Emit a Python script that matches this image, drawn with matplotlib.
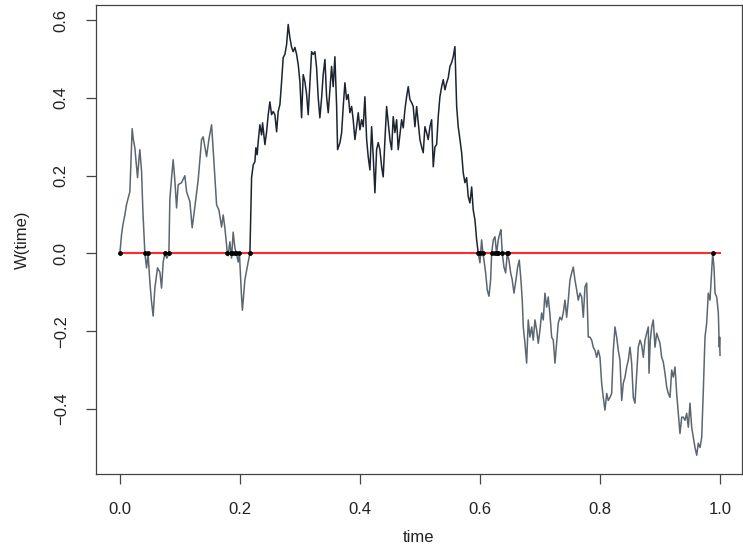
import matplotlib
matplotlib.use("Agg")
import matplotlib.pyplot as plt
import numpy as np

plt.rcParams['font.family'] = ['Liberation Sans', 'DejaVu Sans']

# Path before the longest excursion (gray)
t_pre = [0.0, .0028, .005, .0083, .011, .014, .0167, .0183, .0205, .0225, .025, .0275, .0295,
         .0317, .0333, .0362, .0383, .0417, .0445, .047, .05, .0525, .0555, .0583, .0628, .0667,
         .0695, .0722, .075, .0783, .0817, .0833, .0862, .0888, .0917, .0945, .0972, .1028, .1083,
         .1112, .1167, .1205, .125, .1305, .1362, .1388, .1445, .1483, .1528, .1555, .1612, .165,
         .1695, .1722, .175, .1778, .1792, .1805, .1833, .1862, .1888, .1917, .1942, .1972, .1992,
         .2028, .2042, .2083, .2138, .2167]
w_pre = [0.0, .048, .073, .099, .125, .143, .159, .228, .321, .293, .272, .228, .195,
         .241, .267, .210, .112, 0.0, -.037, 0.0, -.073, -.120, -.161, -.089, -.037, -.048,
         -.089, -.022, 0.0, -.012, 0.0, .138, .195, .241, .187, .117, .177, .182, .200,
         .159, .133, .066, .120, .189, .293, .300, .249, .293, .331, .267, .125, .112,
         .068, .099, .066, .022, 0.0, -.006, .030, -.012, .055, .014, 0.0, -.022, 0.0,
         -.112, -.146, -.068, -.022, 0.0]

# Longest excursion (dark)
t_exc = [.2167, .2195, .2222, .225, .2267, .2288, .2305, .2333, .2362, .2378, .24, .2417, .2445,
         .2472, .25, .2528, .2555, .2583, .2612, .2638, .2667, .2695, .2722, .275, .2778, .2805,
         .2833, .2862, .2888, .2917, .2945, .2972, .3, .3028, .3055, .3083, .3112, .3138, .3167,
         .3195, .3222, .325, .3278, .3305, .3333, .3362, .3388, .3417, .3445, .3472, .35, .3528,
         .3555, .3583, .3612, .3628, .3667, .3695, .3722, .375, .3778, .3805, .3833, .3862, .3888,
         .3917, .3945, .3972, .4, .4028, .4055, .4083, .4112, .4138, .4167, .4195, .4222, .425,
         .4278, .4305, .4333, .4362, .4388, .4417, .4445, .4472, .45, .4528, .4555, .4583, .4612,
         .4638, .4667, .4695, .4722, .475, .4778, .4805, .4833, .4862, .4888, .4917, .4945, .4972,
         .5, .5028, .5055, .5083, .5112, .5138, .5167, .5195, .5222, .525, .5278, .5305, .5333,
         .5362, .5388, .5417, .5445, .5472, .55, .5528, .5555, .5583, .5612, .5638, .5667, .5695,
         .5722, .575, .5778, .5805, .5833, .5862, .5888, .5917, .5945, .5972]
w_exc = [0.0, .195, .228, .236, .272, .254, .287, .331, .305, .336, .305, .280, .313,
         .357, .390, .357, .365, .357, .313, .365, .383, .442, .504, .512, .537, .589,
         .555, .530, .519, .530, .512, .486, .442, .349, .460, .442, .409, .357, .442,
         .519, .512, .519, .478, .401, .349, .401, .460, .499, .403, .362, .421, .481,
         .429, .506, .378, .267, .285, .310, .378, .439, .396, .409, .362, .378, .344,
         .293, .326, .362, .318, .344, .326, .403, .293, .249, .215, .326, .249, .156,
         .267, .285, .267, .223, .197, .293, .378, .336, .293, .267, .352, .311, .344,
         .267, .305, .344, .323, .370, .403, .429, .396, .388, .378, .326, .378, .336,
         .293, .274, .259, .326, .310, .293, .326, .344, .223, .274, .280, .352, .403,
         .429, .447, .421, .439, .452, .481, .491, .506, .532, .378, .326, .293, .259,
         .207, .182, .195, .146, .130, .171, .112, .086, .035, 0.0]

# Path after the excursion (gray)
t_post = [.5972, .6, .6028, .605, .6067, .6095, .6122, .615, .6178, .6195, .6222, .625, .6278,
          .6305, .6333, .635, .6372, .64, .6428, .6455, .6483, .6512, .6538, .6567, .66, .6628,
          .6655, .6683, .6705, .6722, .675, .6778, .6805, .6833, .6862, .6888, .6917, .6945,
          .6972, .7, .7028, .7055, .7083, .7112, .7138, .7167, .7195, .7222, .725, .7278, .7305,
          .7333, .7362, .7388, .7417, .7445, .7472, .75, .7528, .7555, .7583, .7612, .7638,
          .7667, .7695, .7722, .775, .7778, .7805, .7833, .7862, .7888, .7917, .7945, .7972,
          .8, .8028, .8055, .8083, .8112, .8138, .8167, .8195, .8222, .825, .8278, .8305, .8333,
          .8362, .8388, .8417, .8445, .8472, .85, .8528, .8555, .8583, .8612, .8638, .8667,
          .8695, .8722, .875, .8778, .8805, .8817, .8838, .8862, .8888, .8917, .8945, .8972, .9,
          .9028, .9055, .9083, .9112, .9138, .9167, .9195, .9222, .925, .9278, .9305, .9333,
          .9362, .9388, .9417, .9445, .9472, .95, .9528, .9555, .9583, .9612, .9638, .9667,
          .9695, .9722, .975, .9778, .9805, .9833, .9862, .9878, .99, .9917, .9945, .9972,
          .9988, .9994, 1.0]
w_post = [0.0, -.024, .035, 0.0, -.017, -.050, -.094, -.110, -.068, 0.0, .035, .043, 0.0,
          .035, .053, .061, 0.0, -.035, -.050, 0.0, -.017, -.050, -.068, -.102, -.068, -.035,
          -.017, -.068, -.120, -.189, -.231, -.282, -.171, -.215, -.189, -.223, -.171, -.197,
          -.231, -.197, -.153, -.171, -.102, -.138, -.112, -.158, -.215, -.223, -.282, -.231, -.179,
          -.164, -.171, -.153, -.120, -.164, -.120, -.068, -.050, -.035, -.068, -.094, -.120,
          -.102, -.112, -.164, -.086, -.076, -.215, -.215, -.223, -.241, -.249, -.267, -.249,
          -.267, -.334, -.370, -.403, -.360, -.378, -.370, -.360, -.249, -.189, -.215, -.249, -.274,
          -.378, -.334, -.318, -.292, -.274, -.241, -.282, -.370, -.385, -.308, -.241, -.223,
          -.236, -.267, -.223, -.205, -.189, -.308, -.223, -.189, -.171, -.241, -.205, -.218, -.231,
          -.267, -.279, -.308, -.344, -.360, -.370, -.300, -.318, -.292, -.360, -.411, -.463,
          -.421, -.421, -.429, -.411, -.447, -.385, -.447, -.473, -.499, -.519, -.488, -.499,
          -.473, -.352, -.215, -.179, -.102, -.120, -.043, 0.0, -.035, -.102, -.112, -.153,
          -.241, -.215, -.262]

# Marked zero crossings
zeros_t = [0.0, .0417, .047, .075, .0817, .1792, .1845, .1875, .1925, .1942, .1985, .2167,
           .5972, .6005, .605, .6195, .6245, .6278, .6295, .6372, .6455, .6475, .9878]

x_ticks = [0.0, 0.2, 0.4, 0.6, 0.8, 1.0]
y_ticks = [-0.4, -0.2, 0.0, 0.2, 0.4, 0.6]

fig = plt.figure(figsize=(7.43, 5.46), dpi=100)
ax = fig.add_axes([0.129, 0.132, 0.8697, 0.8588])

gray = '#5b6670'
dark = '#1b2430'
ax.plot(t_pre, w_pre, color=gray, lw=1.1, zorder=2)
ax.plot(t_post, w_post, color=gray, lw=1.1, zorder=2)
ax.plot(t_exc, w_exc, color=dark, lw=1.1, zorder=3)
ax.plot([0.0, 1.0], [0.0, 0.0], color='#ff2a2a', lw=1.5, zorder=4)
ax.plot(zeros_t, [0.0] * len(zeros_t), linestyle='none', marker='o', ms=2.8,
        mfc='black', mec='black', mew=0.6, zorder=5)

ax.set_xlim(-0.04, 1.0367)
ax.set_ylim(-0.567, 0.639)
ax.set_xticks(x_ticks)
ax.set_xticklabels([f"{v:.1f}" for v in x_ticks])
ax.set_yticks(y_ticks)
ax.set_yticklabels([f"{v:.1f}".replace('-', '\u2212') for v in y_ticks], rotation=90, va='center')

for s in ax.spines.values():
    s.set_color('#444444')
    s.set_linewidth(0.9)
ax.tick_params(axis='both', direction='out', length=7.5, width=0.9, color='#444444',
               labelsize=12, labelcolor='#222222')
ax.tick_params(axis='x', pad=13)
ax.tick_params(axis='y', pad=12)

ax.set_xlabel('time', fontsize=12, color='#222222', labelpad=9)
ax.set_ylabel('W(time)', fontsize=12, color='#222222', labelpad=17)

fig.savefig('out.png', dpi=100)
